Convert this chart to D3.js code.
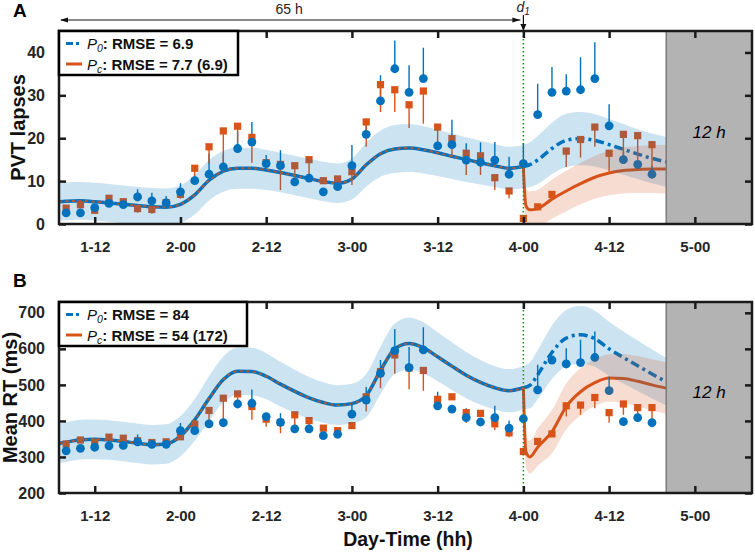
<!DOCTYPE html>
<html><head><meta charset="utf-8">
<script src="https://cdn.jsdelivr.net/npm/d3@7/dist/d3.min.js"></script>
<style>
body{margin:0;background:#fff;}
svg{display:block;font-family:"Liberation Sans",Arial,Helvetica,sans-serif;}
</style>
</head><body>
<svg id="c" width="755" height="552"></svg>
<script>
// ---------- DATA ----------
const tickHours  = [12,24,36,48,60,72,84,96];
const tickLabels = ["1-12","2-00","2-12","3-00","3-12","4-00","4-12","5-00"];
const pvtTicks = [0,10,20,30,40];
const rtTicks  = [200,300,400,500,600,700];

// observation times (hours from day 1, 00:00)
const obsTimes = [8,10,12,14,16,18,20,22,24,26,28,30,32,34,36,38,40,42,44,46,48,50,52,54,56,58,60,62,64,66,68,70,72,74,76,78,80,82,84,86,88,90];

// Panel A: PVT lapses
const pvtP0Obs = [2.6,2.6,3.8,4.8,4.5,6.3,5.4,4.9,7.5,10.1,11.6,13.3,17.6,19.1,14.1,13.6,9.8,10.7,7.5,8.7,13.6,20.9,28.7,36.2,30.7,33.9,18.2,18.5,14.9,14.4,14.9,11.6,14.1,25.5,30.7,31.0,31.3,33.9,22.9,15.0,13.9,11.6];
const pvtP0Err = [0.4,0.3,0.5,0.5,0.3,1.8,1.9,1.6,2.0,1.0,4.8,3.1,4.0,4.7,2.0,3.6,0.5,0.8,0.5,1.5,4.8,2.6,6.0,6.6,6.3,7.2,1.0,5.8,3.9,4.6,4.2,4.1,4.7,7.2,5.9,3.9,7.6,8.5,5.0,2.0,0.5,2.0];
const pvtPcObs = [3.7,4.5,3.2,6.0,5.2,3.6,3.4,5.0,6.9,13.0,18.0,21.7,22.8,20.2,14.3,13.9,13.6,15.0,10.1,10.5,12.2,23.8,32.5,31.3,27.8,31.0,22.6,19.9,16.5,15.9,10.8,7.7,1.3,4.0,6.9,17.0,19.7,22.6,16.5,20.9,20.6,18.5];
const pvtPcErr = [0.5,0.8,0.8,0.8,0.5,1.0,1.0,1.0,1.0,2.0,3.9,7.6,4.0,5.9,1.5,6.0,3.4,4.2,0.8,1.5,3.1,5.8,6.4,5.2,5.4,7.6,4.4,4.2,5.1,4.5,2.9,1.7,0.5,0.3,0.8,3.7,4.2,4.6,4.3,6.0,8.0,5.2];

// Panel B: mean RT (ms)
const rtP0Obs = [317,324,327,331,332,342,335,335,373,373,392,395,447,449,412,396,378,378,359,363,419,458,532,595,548,597,442,433,409,397,409,380,406,486,569,558,562,576,484,398,409,395];
const rtP0Err = [5,5,5,5,5,20,10,5,21,5,5,5,5,38,10,25,5,5,5,5,30,36,37,60,57,63,39,5,26,5,33,21,5,70,5,44,63,72,39,5,5,5];
const rtPcObs = [336,347,341,355,352,345,340,342,356,391,429,463,475,440,405,396,417,401,380,373,387,467,537,583,547,540,460,467,423,421,392,367,315,343,364,442,444,465,423,447,437,437];
const rtPcErr = [5,5,5,5,5,5,5,5,5,5,33,66,30,37,21,30,30,20,8,8,9,41,46,52,59,56,18,5,29,5,17,12,5,5,5,30,27,30,28,30,28,42];

// Model predictions before d1 (both models coincide)
const preTimes = [7,8,10,12,14,16,18,20,22,24,26,28,30,32,34,36,38,40,42,44,46,48,50,52,54,56,58,60,62,64,66,68,70,72];
const pvtPre     = [5.2,5.3,5.4,5.2,4.9,4.6,4.3,4.0,3.9,4.6,6.8,10.2,12.3,13.0,13.0,12.6,12.0,11.3,10.6,9.9,9.5,10.5,13.8,16.4,17.5,17.7,17.3,16.6,15.8,15.0,14.3,13.6,13.0,13.4];
const pvtPreBand = [4.4,4.4,4.4,4.4,4.4,4.4,4.4,4.4,4.4,4.4,4.6,4.7,4.8,4.8,4.8,4.7,4.6,4.6,4.6,4.6,4.6,4.8,5.1,5.4,5.6,5.6,5.5,5.4,5.3,5.2,5.1,5.0,5.0,5.0];
const rtPre      = [338,341,348,349,347,343,338,334,336,358,403,462,515,538,537,524,502,482,464,451,444,448,470,540,600,615,603,578,552,527,507,492,484,492];
const rtPreBand  = [55,55,55,55,55,55,55,55,55,56,58,62,64,66,66,64,62,60,58,56,55,55,60,66,70,72,71,68,66,64,62,60,60,60];

// P0 after d1
const p0PostTimes   = [72,73,74,76,78,80,82,84,86,88,90,92];
const pvtP0Post     = [13.4,13.9,14.9,17.6,19.5,19.9,19.5,18.5,17.4,16.3,15.3,14.5];
const pvtP0PostBand = [5.0,5.3,5.6,6.0,6.2,6.2,6.1,6.0,5.9,5.8,5.8,5.8];
const rtP0Post      = [492,500,528,590,630,639,628,600,576,553,530,509];
const rtP0PostBand  = [60,64,68,74,78,80,78,75,72,70,68,66];

// Pc after d1
const pcPostTimes   = [72,72.15,72.35,72.9,74,76,78,80,82,84,86,88,90,92];
const pvtPcPost     = [13.4,8.0,4.3,3.3,3.6,5.8,7.7,9.4,10.9,11.9,12.5,12.7,12.8,12.8];
const pvtPcPostBand = [0,3.0,4.2,4.3,4.4,4.6,4.7,4.8,5.0,5.2,5.4,5.5,5.6,5.7];
const rtPcPost      = [492,390,315,300,327,370,440,481,506,519,518,510,500,491];
const rtPcPostBand  = [0,30,42,46,52,60,64,65,65,66,68,70,71,72];

const legendA = ["6.9","7.7 (6.9)"];
const legendB = ["84","54 (172)"];

// ---------- DRAW ----------
const COL_P0 = "#0072BD", COL_PC = "#D95319";
const svg = d3.select("#c");
const x = d3.scaleLinear().domain([7,104]).range([59,752]);
const d1 = 72, boxStart = 92;
const zip = (t, v, b) => t.map((tt,i)=>[tt, v[i], b ? b[i] : 0]);

function drawPanel(cfg){
  const y = d3.scaleLinear().domain(cfg.domain).range([cfg.bottom, cfg.top]);
  const g = svg.append("g");
  const clipId = "clip" + cfg.id;
  svg.append("clipPath").attr("id", clipId).append("rect")
    .attr("x", x(7)).attr("y", cfg.top).attr("width", x(boxStart)-x(7)).attr("height", cfg.bottom-cfg.top);
  const plot = g.append("g").attr("clip-path", `url(#${clipId})`);

  const line = d3.line().x(d=>x(d[0])).y(d=>y(d[1])).curve(d3.curveMonotoneX);
  const area = d3.area().x(d=>x(d[0])).y0(d=>y(d[1]-d[2])).y1(d=>y(d[1]+d[2])).curve(d3.curveMonotoneX);

  const pre = zip(preTimes, cfg.pre, cfg.preBand);
  const p0 = zip(p0PostTimes, cfg.p0Post, cfg.p0Band);
  const pc = zip(pcPostTimes, cfg.pcPost, cfg.pcBand);

  // curves
  plot.append("path").attr("d", line(pre)).attr("fill","none").attr("stroke",COL_P0).attr("stroke-width",3.5);
  plot.append("path").attr("d", line(pre)).attr("fill","none").attr("stroke",COL_PC).attr("stroke-width",2).attr("stroke-dasharray","3,3.5");
  plot.append("path").attr("d", line(p0)).attr("fill","none").attr("stroke",COL_P0).attr("stroke-width",3.5).attr("stroke-dasharray","9,4,3,4");
  plot.append("path").attr("d", line(pc)).attr("fill","none").attr("stroke",COL_PC).attr("stroke-width",3);

  // observations
  const obsP0 = obsTimes.map((t,i)=>({t, v:cfg.p0Obs[i], e:cfg.p0Err[i]}));
  const obsPc = obsTimes.map((t,i)=>({t, v:cfg.pcObs[i], e:cfg.pcErr[i]}));
  plot.selectAll(null).data(obsP0).enter().append("line")
    .attr("x1",d=>x(d.t)).attr("x2",d=>x(d.t)).attr("y1",d=>y(d.v)).attr("y2",d=>y(d.v+d.e))
    .attr("stroke",COL_P0).attr("stroke-width",1.4);
  plot.selectAll(null).data(obsPc).enter().append("line")
    .attr("x1",d=>x(d.t)).attr("x2",d=>x(d.t)).attr("y1",d=>y(d.v)).attr("y2",d=>y(d.v-d.e))
    .attr("stroke",COL_PC).attr("stroke-width",1.4);
  plot.selectAll(null).data(obsPc).enter().append("rect")
    .attr("x",d=>x(d.t)-3.6).attr("y",d=>y(d.v)-3.6).attr("width",7.2).attr("height",7.2)
    .attr("fill",COL_PC);
  plot.selectAll(null).data(obsP0).enter().append("circle")
    .attr("cx",d=>x(d.t)).attr("cy",d=>y(d.v)).attr("r",4.4).attr("fill",COL_P0);

  // confidence bands (translucent, on top)
  plot.append("path").attr("d", area(pre)).attr("fill",COL_P0).attr("fill-opacity",0.2);
  plot.append("path").attr("d", area(p0)).attr("fill",COL_P0).attr("fill-opacity",0.2);
  plot.append("path").attr("d", area(pc)).attr("fill",COL_PC).attr("fill-opacity",0.2);

  // d1 dotted line
  g.append("line").attr("x1",x(d1)).attr("x2",x(d1)).attr("y1",cfg.top).attr("y2",cfg.bottom)
    .attr("stroke","#1e8c1e").attr("stroke-width",1.5).attr("stroke-dasharray","1.5,2.5");

  // grey box
  g.append("rect").attr("x",x(boxStart)).attr("y",cfg.top).attr("width",x(104)-x(boxStart)).attr("height",cfg.bottom-cfg.top)
    .attr("fill","#b3b3b3");
  g.append("line").attr("x1",x(boxStart)).attr("x2",x(boxStart)).attr("y1",cfg.top).attr("y2",cfg.bottom)
    .attr("stroke","#7a7a7a").attr("stroke-width",1.5);
  g.append("text").attr("x",(x(boxStart)+x(104))/2).attr("y",cfg.boxTextY).attr("text-anchor","middle")
    .attr("font-size",17).attr("font-style","italic").text("12 h");

  // axes with inward ticks
  const xb = d3.axisBottom(x).tickValues(tickHours).tickFormat((d,i)=>tickLabels[i]).tickSizeInner(-7).tickSizeOuter(0).tickPadding(17);
  const xt = d3.axisTop(x).tickValues(tickHours).tickFormat("").tickSizeInner(-7).tickSizeOuter(0);
  const yl = d3.axisLeft(y).tickValues(cfg.ticks).tickSizeInner(-7).tickSizeOuter(0).tickPadding(14);
  const yr = d3.axisRight(y).tickValues(cfg.ticks).tickFormat("").tickSizeInner(-7).tickSizeOuter(0);
  const axes = [
    g.append("g").attr("transform",`translate(0,${cfg.bottom})`).call(xb),
    g.append("g").attr("transform",`translate(0,${cfg.top})`).call(xt),
    g.append("g").attr("transform",`translate(${x(7)},0)`).call(yl),
    g.append("g").attr("transform",`translate(${x(104)},0)`).call(yr)
  ];
  axes.forEach(a=>{
    a.select(".domain").remove();
    a.selectAll(".tick line").attr("stroke","#1a1a1a").attr("stroke-width",2.5);
    a.selectAll("text").attr("fill","#262626").attr("font-weight","bold").attr("font-family","Liberation Sans, Arial, sans-serif");
  });
  axes[0].selectAll("text").attr("font-size",15);
  axes[2].selectAll("text").attr("font-size",16);

  // frame
  g.append("rect").attr("x",x(7)).attr("y",cfg.top).attr("width",x(104)-x(7)).attr("height",cfg.bottom-cfg.top)
    .attr("fill","none").attr("stroke","#1a1a1a").attr("stroke-width",2.5);

  // legend
  const lg = g.append("g");
  lg.append("rect").attr("x",x(7)).attr("y",cfg.top).attr("width",cfg.legendW).attr("height",44)
    .attr("fill","#fff").attr("stroke","#000").attr("stroke-width",2.5);
  const rows = [{c:COL_P0, dash:"7,3,3,3", sub:"0", txt:cfg.legend[0]}, {c:COL_PC, dash:null, sub:"c", txt:cfg.legend[1]}];
  rows.forEach((r,i)=>{
    const ry = cfg.top + 12.5 + i*20.5;
    const ln = lg.append("line").attr("x1",x(7)+7).attr("x2",x(7)+23).attr("y1",ry).attr("y2",ry)
      .attr("stroke",r.c).attr("stroke-width",3);
    if(r.dash) ln.attr("stroke-dasharray",r.dash);
    const t = lg.append("text").attr("x",x(7)+28).attr("y",ry+5.5).attr("font-size",15).attr("fill","#111");
    t.append("tspan").attr("font-style","italic").text("P");
    t.append("tspan").attr("font-style","italic").attr("font-size",10.5).attr("dy",3).text(r.sub);
    t.append("tspan").attr("dy",-3).attr("font-weight","bold").text(": RMSE = " + r.txt);
  });

  // panel letter
  svg.append("text").attr("x",13).attr("y",cfg.letterY).attr("font-size",19).attr("font-weight","bold").text(cfg.letter);
  // y label
  svg.append("text").attr("transform",`translate(${cfg.ylabX},${(cfg.top+cfg.bottom)/2}) rotate(-90)`)
    .attr("text-anchor","middle").attr("font-size",20).attr("font-weight","bold").attr("fill","#111").text(cfg.ylabel);
  return y;
}

drawPanel({id:"A", top:31, bottom:224, domain:[0,45], ticks:pvtTicks,
  pre:pvtPre, preBand:pvtPreBand, p0Post:pvtP0Post, p0Band:pvtP0PostBand, pcPost:pvtPcPost, pcBand:pvtPcPostBand,
  p0Obs:pvtP0Obs, p0Err:pvtP0Err, pcObs:pvtPcObs, pcErr:pvtPcErr,
  legend:legendA, legendW:179, boxTextY:138, letter:"A", letterY:17, ylabel:"PVT lapses", ylabX:25});

drawPanel({id:"B", top:302, bottom:493, domain:[200,730], ticks:rtTicks,
  pre:rtPre, preBand:rtPreBand, p0Post:rtP0Post, p0Band:rtP0PostBand, pcPost:rtPcPost, pcBand:rtPcPostBand,
  p0Obs:rtP0Obs, p0Err:rtP0Err, pcObs:rtPcObs, pcErr:rtPcErr,
  legend:legendB, legendW:188, boxTextY:398, letter:"B", letterY:287, ylabel:"Mean RT (ms)", ylabX:17});

// x label
svg.append("text").attr("x",408).attr("y",546).attr("text-anchor","middle").attr("font-size",19.5)
  .attr("font-weight","bold").attr("fill","#111").text("Day-Time (hh)");

// 65 h double arrow
const ay = 20;
svg.append("line").attr("x1",x(7)+2).attr("x2",x(d1)-3).attr("y1",ay).attr("y2",ay).attr("stroke","#111").attr("stroke-width",1);
svg.append("path").attr("d",`M${x(7)+1},${ay} l8,-2.5 l0,5 z`).attr("fill","#111");
svg.append("path").attr("d",`M${x(d1)-3},${ay} l-8,-2.5 l0,5 z`).attr("fill","#111");
svg.append("text").attr("x",(x(7)+x(d1))/2-2).attr("y",14).attr("text-anchor","middle").attr("font-size",14).attr("fill","#222").text("65 h");

// d1 arrow
svg.append("line").attr("x1",x(d1)).attr("x2",x(d1)).attr("y1",15).attr("y2",27).attr("stroke","#111").attr("stroke-width",1.2);
svg.append("path").attr("d",`M${x(d1)},${31} l-3,-7 l6,0 z`).attr("fill","#111");
const dt = svg.append("text").attr("x",x(d1)-7).attr("y",11.5).attr("font-size",14).attr("font-style","italic").attr("fill","#222");
dt.append("tspan").text("d");
dt.append("tspan").attr("font-size",10).attr("dy",3).text("1");
</script>
</body></html>
